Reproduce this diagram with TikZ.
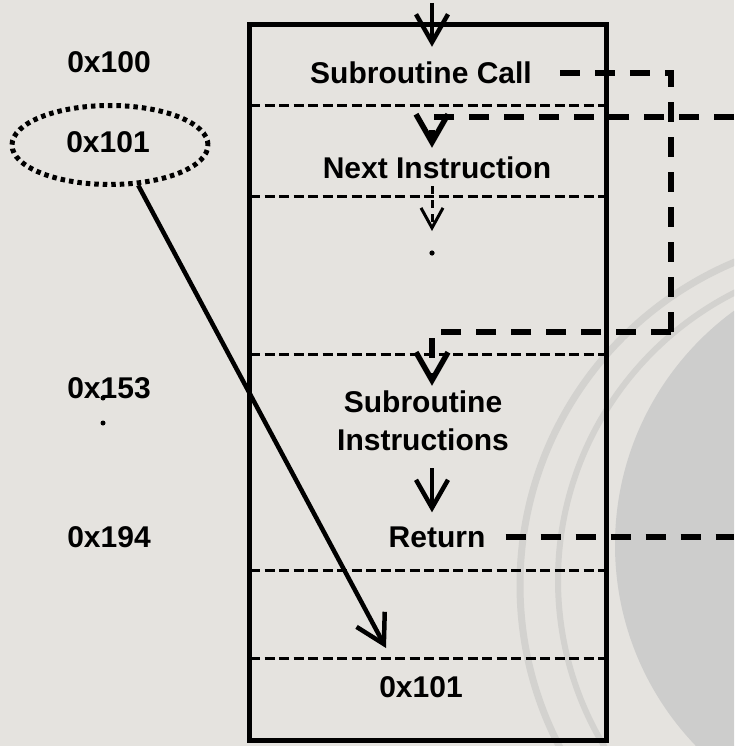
\documentclass[tikz,border=0pt]{standalone}
\usepackage{fontspec}
\setmainfont{Liberation Sans}
\usetikzlibrary{
  arrows.meta,
  positioning,
  shapes.geometric,
  calc,
}
\definecolor{pagebg}{RGB}{229,227,223}
\definecolor{globegray}{RGB}{205,205,204}
\definecolor{ringgray}{RGB}{211,210,207}
\tikzset{
  lbl/.style={
    font=\bfseries\fontsize{30}{38}\selectfont, inner sep=0pt, align=center
  },
  membox/.style={
    rectangle, draw, line width=5pt, inner sep=0pt,
    minimum width=357pt, minimum height=715pt
  },
  slotline/.style={line width=3pt, dash pattern=on 10pt off 4.5pt},
  flow/.style={line width=4.5pt, -{Straight Barb[length=28pt,width=32pt]}},
  jump/.style={line width=5.5pt, dash pattern=on 20pt off 15pt,
    -{Straight Barb[length=28pt,width=32pt]}},
  jumpout/.style={line width=5.5pt, dash pattern=on 20pt off 15pt},
  ellip/.style={line width=3pt, dash pattern=on 8pt off 6pt,
    -{Straight Barb[length=20pt,width=22pt]}},
  savedring/.style={
    ellipse, draw, line width=5pt, dash pattern=on 4.5pt off 4pt,
    minimum width=196pt, minimum height=79pt
  },
}

\begin{document}
\begin{tikzpicture}[x=1pt, y=-1pt]

  % ── Page and background globe ──
  \useasboundingbox (0,0) rectangle (734,746);
  \fill[pagebg] (0,0) rectangle (734,746);
  \begin{scope}
    \clip (0,0) rectangle (734,746);
    \fill[globegray] (905,545) circle (290);
    \draw[ringgray, line width=7pt] (870,585) circle (350);
    \draw[ringgray, line width=6pt] (880,580) circle (322);
  \end{scope}

  % ── Memory column ──
  \node[membox] (mem) at (428,382.5) {};
  \foreach \y in {106,196,354,570,658}
    \draw[slotline] (250,\y) -- (606,\y);

  % ── Slot contents ──
  \node[lbl] (call)   at (421,73)  {Subroutine Call};
  \node[lbl] (next)   at (437,168) {Next Instruction};
  \node[lbl] (subins) at (423,421) {Subroutine\\Instructions};
  \node[lbl] (ret)    at (437,537) {Return};
  \node[lbl] (saved)  at (421,687) {0x101};

  % ── Addresses ──
  \node[lbl] (a100) at (109,62)  {0x100};
  \node[lbl] (a101) at (108,142) {0x101};
  \node[lbl] (a153) at (109,388) {0x153};
  \node[lbl] (a194) at (109,537) {0x194};
  \node[savedring] (e101) at (110,145) {};
  \foreach \y in {398,423}
    \fill (103,\y) circle (2.5pt);

  % ── Free ends ──
  \coordinate (topin)    at (432,3);
  \coordinate (retin)    at (734,117);
  \coordinate (retout)   at (734,537);
  \coordinate (bend)     at (671,332);
  \coordinate (gapdot)   at (432,253);
  \coordinate (slotmark) at (386,648);

  % ── Sequential flow ──
  \draw[flow, shorten >=15pt] (topin) -- (topin |- call.north);
  \draw[ellip, shorten <=7pt, shorten >=22pt] (topin |- next.south) -- (gapdot);
  \fill (gapdot) circle (2.6pt);
  \draw[flow, shorten <=17pt, shorten >=14pt] (topin |- subins.south) -- (topin |- ret.north);

  % ── Call and return jumps ──
  \draw[jumpout] ([xshift=28pt]call.east) -| (bend);
  \draw[jump, shorten >=5pt] (bend) -| (topin |- subins.north);
  \draw[jumpout] ([xshift=20pt]ret.east) -- (retout);
  \draw[jump, shorten >=9pt] (retin) -| (topin |- next.north);

  % ── Saved return address ──
  \draw[flow] (e101.-55) -- (slotmark);

\end{tikzpicture}
\end{document}
